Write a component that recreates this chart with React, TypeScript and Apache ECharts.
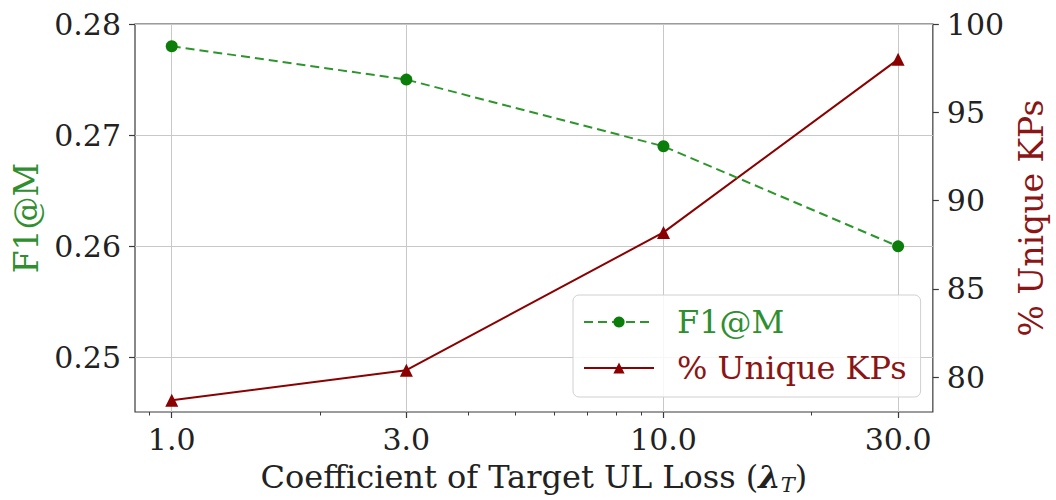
import React, { useEffect, useRef } from "react";
import * as echarts from "echarts";

const lambdas = [1, 3, 10, 30];
const f1Values = [0.278, 0.275, 0.269, 0.26];
const uniqueKPs = [78.7, 80.4, 88.2, 98.0];
const xMajorTicks = [1, 3, 10, 30];
const xMinorTicks = [0.9, 2, 4, 5, 6, 7, 8, 9, 20];
const leftTicks = [0.25, 0.26, 0.27, 0.28];
const rightTicks = [80, 85, 90, 95, 100];

const FONT = "DejaVu Serif";
const GREEN_TEXT = "#2f8f2f";
const RED = "#8b0000";
const RED_TEXT = "#8b1414";
const AXIS = "#3a3a3a";
const TICK_FS = 30;
const TITLE_FS = 33;
const XTITLE_FS = 32;
const LEGEND_FS = 32;

export default function App() {
  const ref = useRef<HTMLDivElement>(null);
  useEffect(() => {
    if (!ref.current) return;
    const chart = echarts.init(ref.current, null, { renderer: "svg" });
    const lx = (v: number) => Math.log10(v);
    const xMin = lx(0.842);
    const xMax = lx(35.3);
    const baseX = {
      type: "value",
      min: xMin,
      max: xMax,
      position: "bottom",
      axisLine: { show: false, onZero: false },
    };
    chart.setOption({
      animation: false,
      backgroundColor: "#fff",
      textStyle: { fontFamily: FONT },
      grid: {
        left: 135,
        right: 118,
        top: 24,
        bottom: 85,
        show: true,
        borderColor: AXIS,
        borderWidth: 1.2,
      },
      legend: {
        left: 573,
        top: 295,
        orient: "vertical",
        padding: [11, 14, 13, 10],
        itemGap: 14,
        itemWidth: 70,
        itemHeight: 14,
        borderColor: "#d0d0d0",
        borderWidth: 1,
        borderRadius: 6,
        backgroundColor: "rgba(255,255,255,0.85)",
        textStyle: { fontFamily: FONT, fontSize: LEGEND_FS, padding: [0, 0, 0, 18] },
        data: [
          { name: "F1@M", textStyle: { color: GREEN_TEXT } },
          { name: "% Unique KPs", textStyle: { color: RED_TEXT } },
        ],
      },
      xAxis: [
        {
          ...baseX,
          name: "{t|Coefficient of Target UL Loss (}{lam|λ}{sub|T}{t|)}",
          nameLocation: "middle",
          nameGap: 47,
          nameTextStyle: {
            rich: {
              t: { fontFamily: FONT, fontSize: XTITLE_FS, color: "#222" },
              lam: { fontFamily: FONT, fontSize: XTITLE_FS, fontStyle: "italic", fontWeight: "bold", color: "#222" },
              sub: { fontFamily: FONT, fontSize: 21, fontStyle: "italic", color: "#222", padding: [15, 0, 0, 0] },
            },
          },
          axisTick: {
            show: true,
            length: 6,
            lineStyle: { color: AXIS, width: 1.2 },
            customValues: xMajorTicks.map(lx),
          },
          axisLabel: {
            customValues: xMajorTicks.map(lx),
            formatter: (v: number) => Math.pow(10, v).toFixed(1),
            fontFamily: FONT,
            fontSize: TICK_FS,
            color: "#222",
            margin: 12,
          },
          splitLine: { show: true, lineStyle: { color: "#c8c8c8", width: 1 } },
        },
        {
          ...baseX,
          axisTick: {
            show: true,
            length: 3.5,
            lineStyle: { color: AXIS, width: 1 },
            customValues: xMinorTicks.map(lx),
          },
          axisLabel: { show: false, customValues: xMinorTicks.map(lx) },
          splitLine: { show: false },
        },
      ],
      yAxis: [
        {
          type: "value",
          min: 0.2451,
          max: 0.28,
          position: "left",
          name: "F1@M",
          nameLocation: "middle",
          nameGap: 92,
          nameTextStyle: { fontFamily: FONT, fontSize: TITLE_FS, color: GREEN_TEXT },
          axisLine: { show: false, onZero: false },
          axisTick: {
            show: true,
            length: 6,
            lineStyle: { color: AXIS, width: 1.2 },
            customValues: leftTicks,
          },
          axisLabel: {
            customValues: leftTicks,
            formatter: (v: number) => v.toFixed(2),
            fontFamily: FONT,
            fontSize: TICK_FS,
            color: "#222",
            margin: 14,
          },
          splitLine: { show: true, lineStyle: { color: "#c8c8c8", width: 1 } },
        },
        {
          type: "value",
          min: 78.03,
          max: 100,
          position: "right",
          name: "% Unique KPs",
          nameLocation: "middle",
          nameGap: 79,
          nameTextStyle: { fontFamily: FONT, fontSize: TITLE_FS, color: RED_TEXT },
          axisLine: { show: false, onZero: false },
          axisTick: {
            show: true,
            length: 6,
            lineStyle: { color: AXIS, width: 1.2 },
            customValues: rightTicks,
          },
          axisLabel: {
            customValues: rightTicks,
            formatter: (v: number) => String(v),
            fontFamily: FONT,
            fontSize: TICK_FS,
            color: "#222",
            margin: 14,
          },
          splitLine: { show: false },
        },
      ],
      series: [
        {
          name: "F1@M",
          type: "line",
          xAxisIndex: 0,
          yAxisIndex: 0,
          data: lambdas.map((l, i) => [lx(l), f1Values[i]]),
          symbol: "circle",
          symbolSize: 12,
          itemStyle: { color: "#0a7d0a" },
          lineStyle: { color: "#2c962c", width: 2, type: [9, 5] },
          z: 3,
        },
        {
          name: "% Unique KPs",
          type: "line",
          xAxisIndex: 0,
          yAxisIndex: 1,
          data: lambdas.map((l, i) => [lx(l), uniqueKPs[i]]),
          symbol: "triangle",
          symbolSize: 13,
          itemStyle: { color: RED },
          lineStyle: { color: RED, width: 2 },
          z: 2,
        },
      ],
    });
    return () => chart.dispose();
  }, []);
  return (
    <div
      ref={ref}
      style={{ position: "fixed", left: 0, top: 0, width: 1056, height: 500 }}
    />
  );
}
